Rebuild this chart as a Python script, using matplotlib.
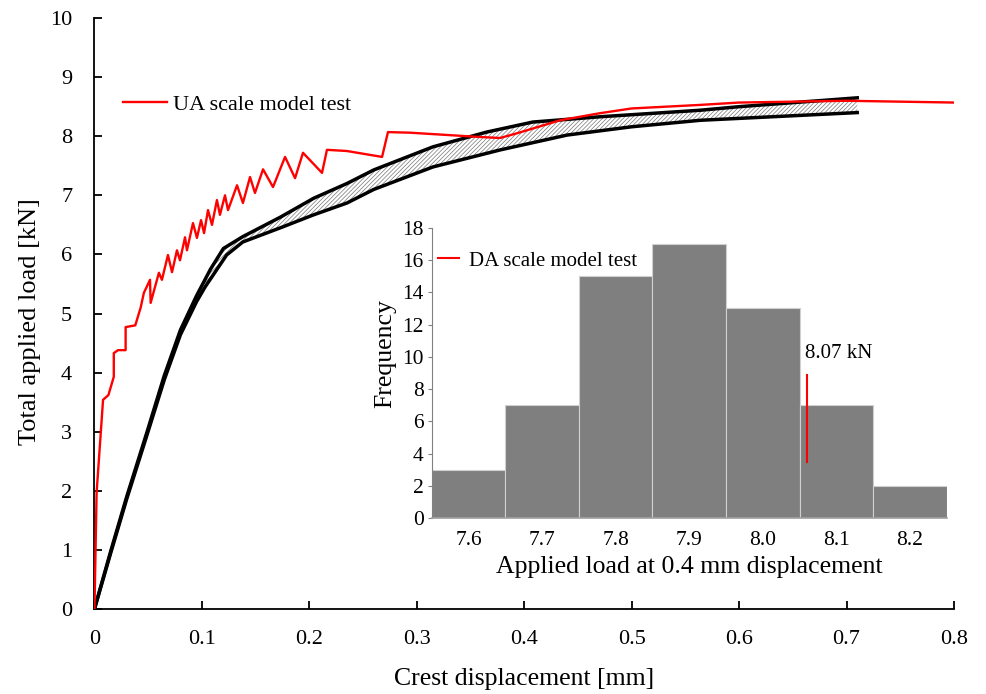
import matplotlib
matplotlib.use('Agg')
import matplotlib.pyplot as plt
import numpy as np

plt.rcParams['font.family'] = ['Liberation Serif', 'DejaVu Serif']
plt.rcParams['hatch.linewidth'] = 0.5

# UA scale model test (red curve)
ua_x = [0, 0.002, 0.008, 0.013, 0.018, 0.018, 0.022, 0.029, 0.029, 0.038, 0.043, 0.046,
        0.0517, 0.0523, 0.060, 0.0628, 0.0684, 0.0722, 0.0768, 0.0796, 0.0843, 0.0861,
        0.0917, 0.0954, 0.0992, 0.102, 0.1057, 0.1094, 0.114, 0.1168, 0.1215, 0.1243,
        0.1327, 0.1382, 0.1448, 0.1494, 0.1569, 0.1662, 0.1774, 0.1867, 0.1941, 0.2118,
        0.2164, 0.235, 0.2677, 0.2732, 0.2937, 0.356, 0.3775, 0.3933, 0.4334, 0.4706,
        0.5, 0.5637, 0.6, 0.7, 0.8]
ua_y = [0, 1.97, 3.54, 3.62, 3.93, 4.33, 4.38, 4.38, 4.77, 4.8, 5.1, 5.35,
        5.57, 5.18, 5.69, 5.57, 5.99, 5.70, 6.07, 5.9, 6.29, 6.07,
        6.53, 6.28, 6.58, 6.36, 6.75, 6.5, 6.92, 6.67, 7.0, 6.75,
        7.17, 6.87, 7.31, 7.04, 7.44, 7.14, 7.65, 7.29, 7.72, 7.38,
        7.77, 7.75, 7.65, 8.07, 8.06, 7.99, 7.97, 8.05, 8.27, 8.39,
        8.47, 8.53, 8.57, 8.6, 8.57]

# DA scale model tests envelope (upper / lower)
up_x = [0, 0.015, 0.03, 0.049, 0.065, 0.08, 0.095, 0.108, 0.12, 0.138, 0.173, 0.204,
        0.235, 0.26, 0.315, 0.365, 0.408, 0.471, 0.564, 0.6, 0.71]
up_y = [0, 0.97, 1.9, 3.0, 3.95, 4.72, 5.3, 5.75, 6.1, 6.3, 6.63, 6.95,
        7.2, 7.43, 7.82, 8.07, 8.24, 8.33, 8.44, 8.5, 8.65]
lo_x = [0, 0.015, 0.03, 0.049, 0.065, 0.08, 0.095, 0.103, 0.123, 0.138, 0.173, 0.204,
        0.235, 0.26, 0.315, 0.378, 0.44, 0.5, 0.564, 0.71]
lo_y = [0, 0.94, 1.86, 2.95, 3.88, 4.64, 5.2, 5.45, 5.99, 6.21, 6.45, 6.67,
        6.87, 7.1, 7.48, 7.77, 8.02, 8.16, 8.27, 8.4]

# histogram of applied load at 0.4 mm displacement
bin_centers = [7.6, 7.7, 7.8, 7.9, 8.0, 8.1, 8.2]
counts = [3, 7, 15, 17, 13, 7, 2]
ua_load = 8.06
ua_label = '8.07 kN'

fig = plt.figure(figsize=(9.86, 6.94), dpi=100)
ax = fig.add_axes([0.0958, 0.1225, 0.8717, 0.8515])

ax.fill(np.concatenate([up_x, lo_x[::-1]]), np.concatenate([up_y, lo_y[::-1]]),
        facecolor='white', edgecolor='#777777', linewidth=0, hatch='////////', zorder=1)
ax.plot(up_x, up_y, color='black', lw=2.5, zorder=2)
ax.plot(lo_x, lo_y, color='black', lw=2.5, zorder=2)
ua_line, = ax.plot(ua_x, ua_y, color='#ff0000', lw=1.7, zorder=3, label='UA scale model test')

ax.set_xlim(0, 0.8)
ax.set_ylim(0, 10)
ax.set_xticks(np.arange(0, 0.81, 0.1))
ax.set_xticklabels(['0', '0.1', '0.2', '0.3', '0.4', '0.5', '0.6', '0.7', '0.8'])
ax.set_yticks(range(0, 11))
ax.spines['top'].set_visible(False)
ax.spines['right'].set_visible(False)
for s in ['left', 'bottom']:
    ax.spines[s].set_linewidth(1.3)
ax.tick_params(axis='both', direction='in', length=6, width=1.3, labelsize=16)
ax.tick_params(axis='x', pad=15)
ax.tick_params(axis='y', pad=16)
ax.set_xlabel('Crest displacement [mm]', fontsize=18.5, labelpad=14)
ax.set_ylabel('Total applied load [kN]', fontsize=19)
ax.yaxis.set_label_coords(-0.062, 0.486)
ax.legend(handles=[ua_line], loc='upper left', bbox_to_anchor=(0.01, 0.905), frameon=False,
          fontsize=16, handlelength=2.0, handletextpad=0.25)

# inset histogram
ins = fig.add_axes([0.438, 0.2536, 0.522, 0.418])
ins.bar(bin_centers, counts, width=0.1, color='#7f7f7f', edgecolor='#d0d0d0', lw=0.8, zorder=2)
da_line, = ins.plot([ua_load, ua_load], [3.5, 8.9], color='#ff0000', lw=1.5, zorder=3,
                    label='DA scale model test')
ins.text(ua_load - 0.003, 9.6, ua_label, fontsize=15, ha='left', va='bottom')
ins.set_xlim(7.55, 8.25)
ins.set_ylim(0, 18)
ins.set_xticks(bin_centers)
ins.set_xticklabels(['7.6', '7.7', '7.8', '7.9', '8.0', '8.1', '8.2'])
ins.set_yticks(range(0, 19, 2))
ins.spines['top'].set_visible(False)
ins.spines['right'].set_visible(False)
ins.spines['left'].set_color('#808080')
ins.spines['bottom'].set_color('#a0a0a0')
ins.spines['bottom'].set_linewidth(1.2)
ins.tick_params(axis='x', length=0, labelsize=15.5, pad=9)
ins.tick_params(axis='y', direction='out', length=3, color='#808080', labelsize=15.5, pad=3)
ins.set_xlabel('Applied load at 0.4 mm displacement', fontsize=18.5, labelpad=5)
ins.set_ylabel('Frequency', fontsize=18.5)
ins.yaxis.set_label_coords(-0.07, 0.566)
ins.legend(handles=[da_line], loc='upper left', bbox_to_anchor=(-0.025, 0.985), frameon=False,
           fontsize=15, handlelength=1.0, handletextpad=0.5)

fig.savefig('out.png', dpi=100)
